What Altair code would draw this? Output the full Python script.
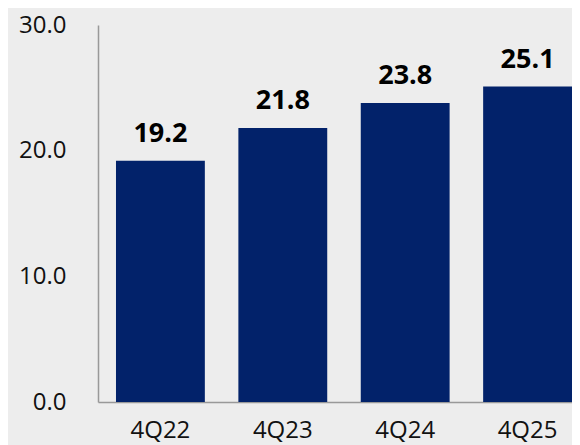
import altair as alt
import pandas as pd

quarters = ["4Q22", "4Q23", "4Q24", "4Q25"]
values = [19.2, 21.8, 23.8, 25.1]
y_ticks = [0, 10, 20, 30]

df = pd.DataFrame({"quarter": quarters, "value": values})

FONT = "Open Sans"

base = alt.Chart(df).encode(
    x=alt.X(
        "quarter:N",
        sort=quarters,
        title=None,
        scale=alt.Scale(paddingInner=0.274, paddingOuter=0.0735, align=1),
        axis=alt.Axis(
            labelAngle=0,
            labelFont=FONT,
            labelFontSize=24,
            labelColor="#111111",
            labelPadding=16,
            ticks=False,
            domainColor="#999999",
            domainWidth=1.5,
        ),
    ),
    y=alt.Y(
        "value:Q",
        title=None,
        scale=alt.Scale(domain=[0, 30], nice=False),
        axis=alt.Axis(
            values=y_ticks,
            format=".1f",
            labelFont=FONT,
            labelFontSize=24,
            labelColor="#111111",
            labelPadding=32,
            ticks=False,
            grid=False,
            domainColor="#999999",
            domainWidth=1.5,
        ),
    ),
)

bars = base.mark_bar(color="#02226a")
labels = base.mark_text(
    font=FONT, fontSize=27, fontWeight="bold", color="#000000",
    baseline="alphabetic", dy=-19,
).encode(text=alt.Text("value:Q", format=".1f"))

chart = (
    (bars + labels)
    .properties(
        width=474,
        height=377,
        background="#ededed",
        padding={"left": 90, "top": 17, "right": 0, "bottom": 43},
        autosize=alt.AutoSizeParams(type="none"),
    )
    .configure_view(stroke=None)
)

chart.save("out.html", embed_options={"renderer": "svg", "actions": False})
